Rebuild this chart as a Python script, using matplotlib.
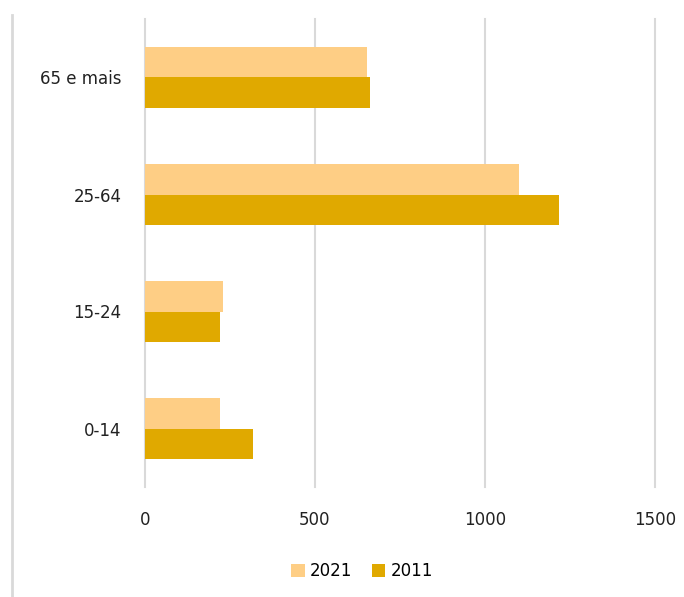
import matplotlib
matplotlib.use("Agg")
import matplotlib.pyplot as plt
import numpy as np
from matplotlib.lines import Line2D

categories = ["0-14", "15-24", "25-64", "65 e mais"]
values_2021 = [220, 230, 1100, 653]
values_2011 = [319, 220, 1218, 661]
series_labels = ["2021", "2011"]
xticks = [0, 500, 1000, 1500]

color_2021 = "#FECE85"
color_2011 = "#E0A900"
grid_color = "#D9D9D9"

plt.rcParams["font.family"] = ["DejaVu Sans"]

fig = plt.figure(figsize=(6.84, 5.97), dpi=100)
ax = fig.add_axes([145/684, 1 - 487/597, (655-145)/684, (487-19)/597])

y = np.arange(len(categories))
h = 0.26
ax.barh(y + h/2, values_2021, height=h, color=color_2021, label=series_labels[0], zorder=3)
ax.barh(y - h/2, values_2011, height=h, color=color_2011, label=series_labels[1], zorder=3)

ax.set_xlim(0, 1500)
ax.set_ylim(-0.5, len(categories) - 0.5)
ax.set_xticks(xticks)
ax.set_xticklabels([str(t) for t in xticks])
ax.set_yticks(y)
ax.set_yticklabels(categories)
ax.tick_params(axis="both", length=0, labelsize=12, colors="#222222")
ax.tick_params(axis="x", pad=17)
ax.tick_params(axis="y", pad=17)
for s in ax.spines.values():
    s.set_visible(False)
ax.xaxis.grid(True, color=grid_color, linewidth=1.5, zorder=0)
for gl in ax.get_xgridlines():
    gl.set_clip_on(False)
ax.set_axisbelow(True)

fig.legend(loc="center", bbox_to_anchor=(362/684, 1 - 571/597), ncol=2, frameon=False,
           fontsize=12, handlelength=0.8, handleheight=0.8, handletextpad=0.3,
           columnspacing=1.2)

fig.add_artist(Line2D([12/684, 12/684], [0, 1 - 15/597], transform=fig.transFigure,
                      color=grid_color, linewidth=2))

fig.savefig("out.png", dpi=100)
